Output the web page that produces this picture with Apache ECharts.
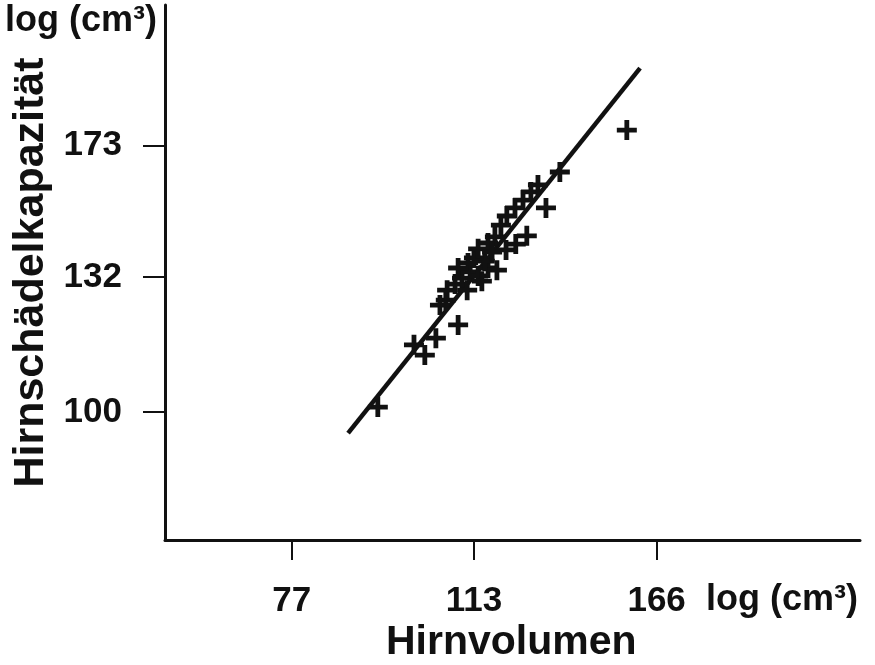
<!DOCTYPE html>
<html>
<head>
<meta charset="utf-8">
<script src="https://cdn.jsdelivr.net/npm/echarts@6/dist/echarts.min.js"></script>
<style>
html,body{margin:0;padding:0;background:#fff;}
#chart{width:875px;height:665px;}
</style>
</head>
<body>
<div id="chart"></div>
<script>
// Brain volume (x, cm³) vs. cranial capacity (y, cm³), log-log axes
const xValues = [92.3, 99.6, 101.9, 104.3, 109.3, 106.5, 106.8, 108.6, 110.2, 111.4,
  112.1, 114.0, 116.4, 118.6, 115.6, 113.0, 114.0, 116.4, 118.1, 111.6,
  114.9, 120.9, 123.4, 126.3, 119.6, 121.1, 123.2, 125.3, 127.4, 129.3,
  131.5, 135.4, 155.9, 109.3, 117.4, 105.2];
const yValues = [101.0, 114.8, 112.4, 116.4, 119.6, 125.9, 128.5, 130.1, 131.7, 128.5,
  133.4, 132.3, 134.5, 133.9, 136.4, 137.3, 139.9, 141.6, 143.4, 135.9,
  130.9, 139.6, 141.3, 143.7, 146.9, 149.7, 152.2, 154.7, 157.3, 159.6,
  152.2, 163.9, 178.7, 134.5, 139.0, 124.6];
const fitX = [86.7, 160.3];
const fitY = [95.7, 203.0];
const xTicks = [77, 113, 166];
const yTicks = [100, 132, 173];
const xName = 'Hirnvolumen';
const yName = 'Hirnschädelkapazität';
const unitLabel = 'log (cm³)';

const FONT = '"Liberation Sans", Arial, Helvetica, sans-serif';
const INK = '#111';

const points = xValues.map((x, i) => [x, yValues[i]]);
const fitLine = fitX.map((x, i) => [x, fitY[i]]);

const chart = echarts.init(document.getElementById('chart'), null, {renderer: 'canvas'});
chart.setOption({
  backgroundColor: '#fff',
  animation: false,
  grid: {left: 165, right: 15, top: 5, bottom: 125, containLabel: false, outerBoundsMode: 'none'},
  xAxis: {
    type: 'log', logBase: 10,
    min: 58.97, max: 254.7,
    axisLine: {show: true, lineStyle: {color: INK, width: 3}},
    axisTick: {show: true, length: 20, lineStyle: {color: INK, width: 2}, customValues: xTicks},
    axisLabel: {show: true, customValues: xTicks, margin: 44,
      fontFamily: FONT, fontWeight: 'bold', fontSize: 35, color: INK,
      formatter: v => String(Math.round(v))},
    splitLine: {show: false},
    minorTick: {show: false}, minorSplitLine: {show: false}
  },
  yAxis: {
    type: 'log', logBase: 10,
    min: 76.8, max: 231.2,
    name: yName, nameLocation: 'middle', nameGap: 105, nameRotate: 90,
    nameTextStyle: {fontFamily: FONT, fontWeight: 'bold', fontSize: 43, color: INK},
    axisLine: {show: true, lineStyle: {color: INK, width: 3}},
    axisTick: {show: true, length: 22, lineStyle: {color: INK, width: 2}, customValues: yTicks},
    axisLabel: {show: true, customValues: yTicks, margin: 43,
      fontFamily: FONT, fontWeight: 'bold', fontSize: 35, color: INK,
      formatter: v => String(Math.round(v))},
    splitLine: {show: false},
    minorTick: {show: false}, minorSplitLine: {show: false}
  },
  graphic: [
    {type: 'text', left: 5, top: 3,
      style: {text: unitLabel, fontFamily: FONT, fontWeight: 'bold', fontSize: 36, fill: INK}},
    {type: 'text', left: 706, top: 582,
      style: {text: unitLabel, fontFamily: FONT, fontWeight: 'bold', fontSize: 36, fill: INK}},
    {type: 'text', left: 386, top: 622,
      style: {text: xName, fontFamily: FONT, fontWeight: 'bold', fontSize: 41, fill: INK}}
  ],
  series: [
    {
      type: 'line', data: fitLine, symbol: 'none', silent: true,
      lineStyle: {color: INK, width: 4.5}, z: 2
    },
    {
      type: 'scatter', data: points,
      symbol: 'path://M0,7.6H20V12.4H0Z M7.6,0H12.4V20H7.6Z',
      symbolSize: 20,
      itemStyle: {color: INK, opacity: 1}, z: 3
    }
  ]
});
</script>
</body>
</html>
